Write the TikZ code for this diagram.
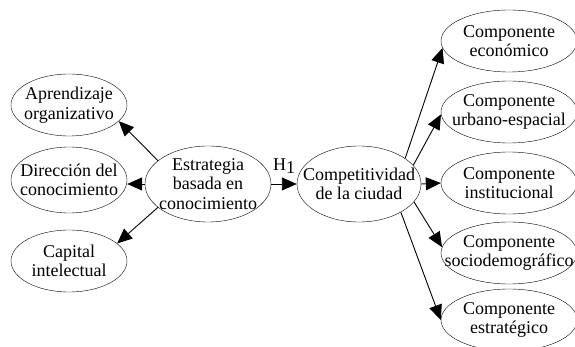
\documentclass[tikz,border=0pt]{standalone}
\usepackage{fontspec}
\setmainfont{Liberation Serif}
\usetikzlibrary{shapes.geometric}
\usetikzlibrary{arrows.meta}

\begin{document}
\begin{tikzpicture}[x=1pt, y=-1pt]
				\tikzstyle{leftnode}=[draw=black, ellipse, inner sep=0pt, minimum width=116pt, minimum height=62pt]
				\tikzstyle{midnode}=[draw=black, ellipse, inner sep=0pt, minimum width=126pt, minimum height=76pt]
				\tikzstyle{rightnode}=[draw=black, ellipse, inner sep=0pt, minimum width=136pt, minimum height=62pt]
				\tikzstyle{txt}=[inner sep=0pt, align=center, font=\fontsize{18}{19.5}\selectfont]
				\tikzstyle{link}=[-{Triangle[length=15pt,width=13pt]}, line width=0.9pt]
				
				\useasboundingbox (0,0) rectangle (575,347);
				
				\node (est) at (208,184) [midnode] {};
				\node (comp) at (359,184) [midnode, minimum width=124pt] {};
				
				\node (apr) at (69,105) [leftnode] {};
				\node (dir) at (69,180) [leftnode, minimum height=66pt] {};
				\node (cap) at (69,261) [leftnode] {};
				
				\node (eco) at (509,41) [rightnode] {};
				\node (urb) at (509,112) [rightnode] {};
				\node (ins) at (509,183) [rightnode] {};
				\node (soc) at (509,253) [rightnode] {};
				\node (str) at (509,320) [rightnode] {};
				
				% texts inside the ellipses
				\node (estT) at (est) [txt] {Estrategia\\basada en\\conocimiento};
				\node (compT) at (comp) [txt] {Competitividad\\de la ciudad};
				\node (aprT) at (apr) [txt] {Aprendizaje\\organizativo};
				\node (dirT) at (dir) [txt] {Direcci\'on del\\conocimiento};
				\node (capT) at (cap) [txt] {Capital\\intelectual};
				\node (ecoT) at (eco) [txt] {Componente\\econ\'omico};
				\node (urbT) at (urb) [txt] {Componente\\urbano-espacial};
				\node (insT) at (ins) [txt] {Componente\\institucional};
				\node (socT) at (soc) [txt] {Componente\\sociodemogr\'afico};
				\node (strT) at (str) [txt] {Componente\\estrat\'egico};
				
				\draw [link] (est.155) -- (apr.342);
				\draw [link] (est.west) -- (dir.east |- est.west);
				\draw [link] (est.205) -- (cap.20);
				
				\draw [link] (est.east) -- (comp.west) node (h1) [midway, above=10pt, txt] {H\raisebox{-0.4ex}{1}};
				
				\draw [link] (comp.29) -- (eco.186);
				\draw [link] (comp.19) -- (urb.182);
				\draw [link] (comp.east) -- (ins.west);
				\draw [link] (comp.-18) -- (soc.175);
				\draw [link] (comp.-34) -- (str.west);
				\end{tikzpicture}
\end{document}
